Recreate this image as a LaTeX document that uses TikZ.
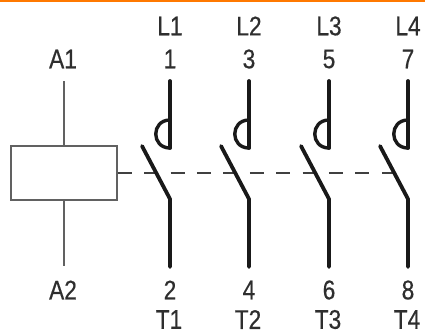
\documentclass[tikz,border=0pt]{standalone}
\usepackage{fontspec}
\setmainfont[FakeStretch=0.84,FakeBold=0.5]{Liberation Sans}
\begin{document}
\begin{tikzpicture}[x=1pt,y=-1pt,
  lbl/.style={inner sep=0pt,text=black!82,font=\fontsize{27}{27}\selectfont},
  thin line/.style={draw=black!62,line width=1.5pt},
  heavy/.style={draw=black!90,line width=3.8pt,line cap=round,line join=round},
  hook/.style={draw=black!90,line width=3.4pt,line cap=round},
  link/.style={draw=black!75,line width=1.4pt,dash pattern=on 14pt off 12.4pt}]
\useasboundingbox (0,0) rectangle (425,333);
\fill[fill=orange!95!red] (0,0) rectangle (425,2.2);
\node[lbl] (a1) at (63,59) {A1};
\node[lbl] (a2) at (63,290) {A2};
\node[draw=black!62,line width=1.5pt,minimum width=106pt,minimum height=54pt,inner sep=0pt] (coil) at (64,173) {};
\coordinate (a1end) at (64,81);
\coordinate (a2end) at (64,266);
\draw[thin line] (a1end) -- (coil.north);
\draw[thin line] (coil.south) -- (a2end);
\coordinate (linkend) at (394,173);
\draw[link] (coil.east) -- (linkend);
\foreach \x/\top/\num/\bot/\low/\name in {170/L1/1/2/T1/p,249/L2/3/4/T2/q,329/L3/5/6/T3/r,408/L4/7/8/T4/s}{
  \node[lbl] (\name top) at (\x,26) {\top};
  \node[lbl] (\name num) at (\x,59) {\num};
  \node[lbl] (\name bot) at (\x,290) {\bot};
  \node[lbl] (\name low) at (\x-1,319.5) {\low};
  \coordinate (\name a) at (\x,81);
  \coordinate (\name b) at (\x,148);
  \coordinate (\name c) at (\x,120);
  \coordinate (\name d) at (\x,199);
  \coordinate (\name e) at (\x,267);
  \coordinate (\name f) at (\x-28,146);
  \coordinate (\name g) at (\x-19,120);
  \coordinate (\name h) at (\x-19,148);
  \draw[heavy] (\name a) -- (\name b);
  \draw[hook] (\name c) .. controls (\name g) and (\name h) .. (\name b);
  \draw[heavy] (\name f) -- (\name d) -- (\name e);
}
\end{tikzpicture}
\end{document}
